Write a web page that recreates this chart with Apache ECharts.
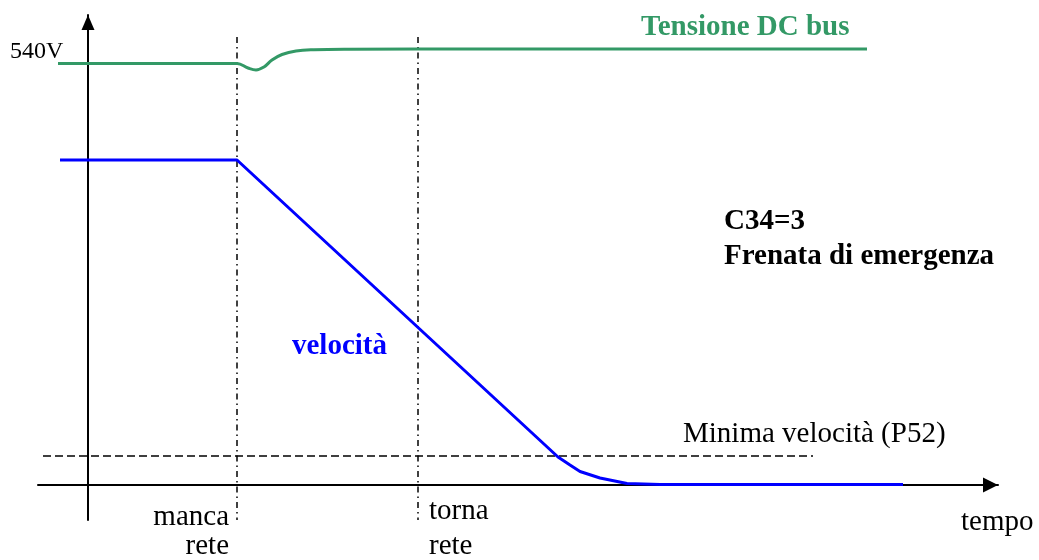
<!DOCTYPE html>
<html>
<head>
<meta charset="utf-8">
<script src="https://cdn.jsdelivr.net/npm/echarts@6/dist/echarts.min.js"></script>
<style>html,body{margin:0;padding:0;background:#fff}#c{width:1039px;height:560px}</style>
</head>
<body>
<div id="c"></div>
<script>
// time (arbitrary units) and level (arbitrary units)
const busTime   = [-3, 14.9, 16.0, 16.8, 17.6, 18.4, 19.4, 20.8, 22.6, 26.0, 40.0, 77.9];
const busLevel  = [84.3, 84.3, 83.4, 83.0, 83.6, 85.0, 86.1, 86.8, 87.05, 87.15, 87.2, 87.2];
const speedTime  = [-2.8, 14.9, 47.0, 48.2, 49.2, 51.2, 53.9, 57.2, 81.5];
const speedLevel = [65, 65, 5.6, 4.0, 2.7, 1.4, 0.3, 0.1, 0.1];
const minSpeedTime  = [-4.5, 72.5];
const minSpeedLevel = 5.8;
const eventTimes = [14.9, 33.0];          // manca rete, torna rete
const eventSpan  = [89.6, -7];
const labels = {
  volt: '540V', bus: 'Tensione DC bus', mode: 'C34=3', modeName: 'Frenata di emergenza',
  speed: 'velocità', minSpeed: 'Minima velocità (P52)',
  loss: ['manca', 'rete'], back: ['torna', 'rete'], time: 'tempo'
};

const pairs = (xs, ys) => xs.map((x, i) => [x, Array.isArray(ys) ? ys[i] : ys]);
const SERIF = '"Liberation Serif", "Times New Roman", serif';

const chart = echarts.init(document.getElementById('c'));
const txt = (text, x, baseline, size, opts) => Object.assign({
  type: 'text', z: 100,
  style: Object.assign({
    text: text, x: x, y: baseline - size * 0.2,
    font: (opts && opts.bold ? 'bold ' : '') + size + 'px ' + SERIF,
    fill: (opts && opts.color) || '#000',
    align: (opts && opts.align) || 'left', verticalAlign: 'middle'
  })
});

chart.setOption({
  animation: false,
  backgroundColor: '#fff',
  grid: { left: 38, right: 41, top: 15, bottom: 40, containLabel: false },
  xAxis: {
    type: 'value', min: -5, max: 91,
    axisLine: { show: true, onZero: true, symbol: ['none', 'triangle'], symbolSize: [15, 15], symbolOffset: [0, -7.5],
      lineStyle: { color: '#000', width: 2 } },
    axisTick: { show: false }, axisLabel: { show: false }, splitLine: { show: false }
  },
  yAxis: {
    type: 'value', min: -7, max: 94,
    axisLine: { show: true, onZero: true, symbol: ['none', 'triangle'], symbolSize: [13, 15], symbolOffset: [0, -7.5],
      lineStyle: { color: '#000', width: 2 } },
    axisTick: { show: false }, axisLabel: { show: false }, splitLine: { show: false }
  },
  series: [
    { type: 'line', data: pairs(minSpeedTime, minSpeedLevel), symbol: 'none', silent: true,
      lineStyle: { color: '#000', width: 1.5, type: [8, 4] } },
    ...eventTimes.map(t => ({ type: 'line', data: pairs([t, t], eventSpan), symbol: 'none', silent: true,
      lineStyle: { color: '#000', width: 1.5, type: [6, 4, 1.5, 4] } })),
    { type: 'line', data: pairs(busTime, busLevel), symbol: 'none', smooth: 0.4,
      lineStyle: { color: '#339966', width: 3 }, z: 5 },
    { type: 'line', data: pairs(speedTime, speedLevel), symbol: 'none',
      lineStyle: { color: '#0000ff', width: 3 }, z: 6 }
  ],
  graphic: [
    txt(labels.volt, 10, 57, 24),
    txt(labels.bus, 641, 33, 29, { bold: true, color: '#339966' }),
    txt(labels.mode, 724, 227, 29, { bold: true }),
    txt(labels.modeName, 724, 262, 29, { bold: true }),
    txt(labels.speed, 292, 352, 29, { bold: true, color: '#0000ff' }),
    txt(labels.minSpeed, 683, 440, 29),
    txt(labels.loss[0], 229, 523, 29, { align: 'right' }),
    txt(labels.loss[1], 229, 552, 29, { align: 'right' }),
    txt(labels.back[0], 429, 517, 29),
    txt(labels.back[1], 429, 552, 29),
    txt(labels.time, 961, 528, 29)
  ]
});
</script>
</body>
</html>
